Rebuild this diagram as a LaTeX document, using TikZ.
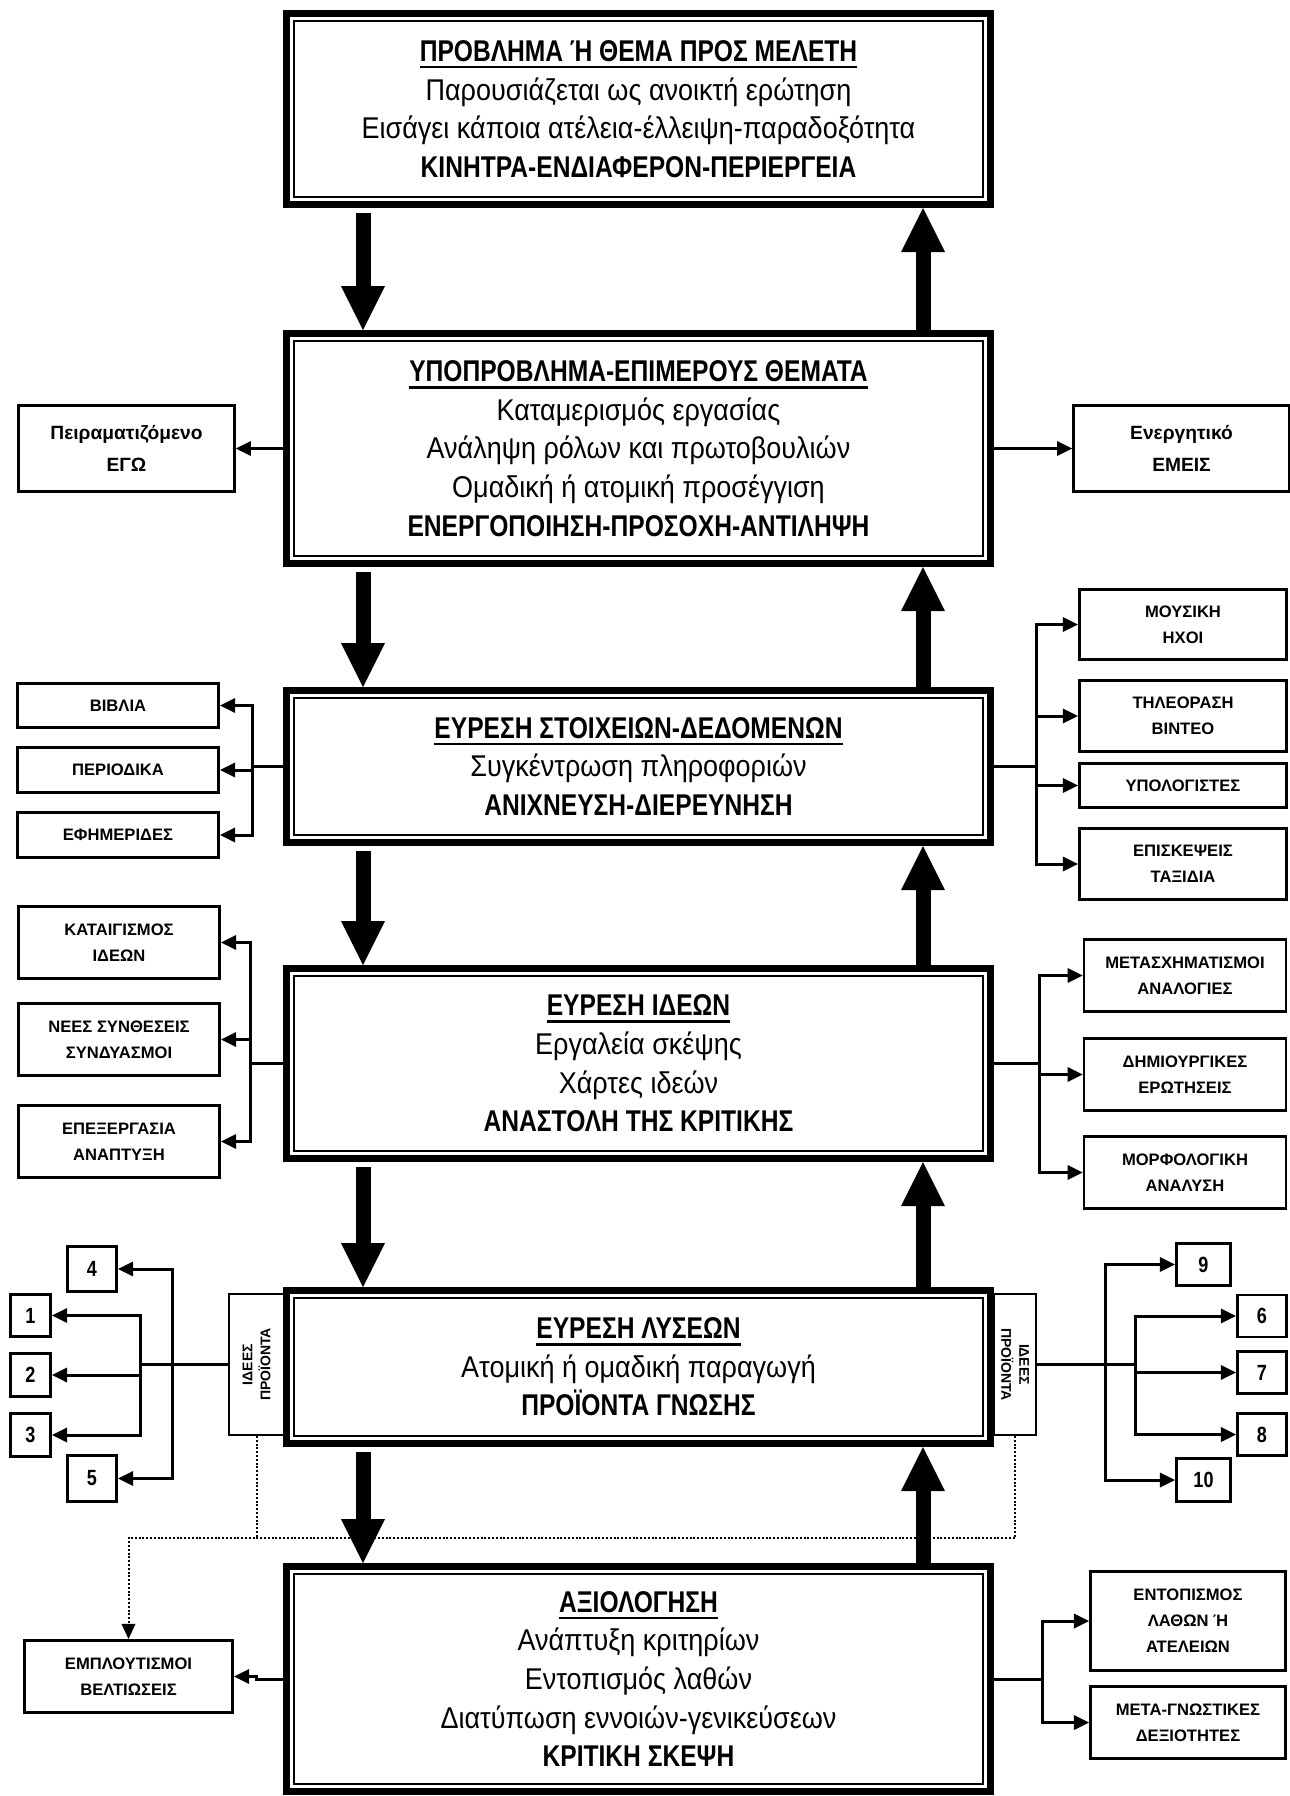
\documentclass[tikz,border=0pt]{standalone}
\usepackage{fontspec}
\setmainfont{Liberation Sans}
\newfontfamily\narrowsf{Liberation Sans}[UprightFeatures={FakeStretch=0.9},BoldFeatures={FakeStretch=0.82}]
\usetikzlibrary{arrows.meta}

\newsavebox{\titlebox}
\newcommand{\boxtitle}[1]{\sbox{\titlebox}{\bfseries #1}\rlap{\rule[-3.5pt]{\wd\titlebox}{1.3pt}}\usebox{\titlebox}}

\begin{document}
\begin{tikzpicture}[x=0.5pt,y=-0.5pt]
        \tikzstyle{stage}=[rectangle,draw,line width=3.5pt,fill=white,inner sep=2pt,align=center,minimum width=352pt,
            font={\narrowsf\fontsize{15pt}{19.3pt}\selectfont},
            path picture={\draw [line width=0.9pt] ([shift={(3.8pt,3.8pt)}]path picture bounding box.south west) rectangle ([shift={(-3.8pt,-3.8pt)}]path picture bounding box.north east);}]
        \tikzstyle{item}=[rectangle,draw,line width=1.3pt,fill=white,align=center,inner sep=1pt,
            font={\fontsize{8.3pt}{13pt}\selectfont\bfseries}]
        \tikzstyle{num}=[rectangle,draw,line width=1.3pt,fill=white,inner sep=0pt,
            font={\narrowsf\bfseries\fontsize{11pt}{12pt}\selectfont}]
        \tikzstyle{tab}=[rectangle,draw,line width=1.2pt,fill=white,minimum height=70.25pt]
        \tikzstyle{flow}=[line width=7.5pt,-{Triangle[length=22pt,width=22pt,line width=0pt]}]
        \tikzstyle{link}=[line width=1.5pt]
        \tikzstyle{branch}=[line width=1.5pt,-{Triangle[length=7.5pt,width=7.5pt,line width=0pt]}]
        \tikzstyle{feedback}=[line width=1pt,dash pattern=on 1pt off 0.9pt]
        \useasboundingbox (0,0) rectangle (1290,1796);
        \coordinate (L) at (363,0);
        \coordinate (R) at (923,0);
        % side tabs of the solutions box, under the box itself
        \node [tab,minimum width=27.25pt] (ltab) at (256.5,1364.5) {};
        \node [tab,minimum width=20.75pt] (rtab) at (1015,1364.5) {};
        \node [rotate=90,align=center,font={\fontsize{7pt}{9pt}\selectfont\bfseries}] at (ltab) {ΙΔΕΕΣ\\ΠΡΟΪΟΝΤΑ};
        \node [rotate=-90,align=center,font={\fontsize{7pt}{9pt}\selectfont\bfseries}] at (rtab) {ΙΔΕΕΣ\\ΠΡΟΪΟΝΤΑ};
        % main column
        \node [stage,minimum height=95.5pt] (problem) at (638.5,109) {\boxtitle{ΠΡΟΒΛΗΜΑ Ή ΘΕΜΑ ΠΡΟΣ ΜΕΛΕΤΗ}\\Παρουσιάζεται ως ανοικτή ερώτηση\\Εισάγει κάποια ατέλεια-έλλειψη-παραδοξότητα\\\textbf{ΚΙΝΗΤΡΑ-ΕΝΔΙΑΦΕΡΟΝ-ΠΕΡΙΕΡΓΕΙΑ}};
        \node [stage,minimum height=115pt] (subproblem) at (638.5,448.5) {\boxtitle{ΥΠΟΠΡΟΒΛΗΜΑ-ΕΠΙΜΕΡΟΥΣ ΘΕΜΑΤΑ}\\Καταμερισμός εργασίας\\Ανάληψη ρόλων και πρωτοβουλιών\\Ομαδική ή ατομική προσέγγιση\\\textbf{ΕΝΕΡΓΟΠΟΙΗΣΗ-ΠΡΟΣΟΧΗ-ΑΝΤΙΛΗΨΗ}};
        \node [stage,minimum height=76pt] (data) at (638.5,766.5) {\boxtitle{ΕΥΡΕΣΗ ΣΤΟΙΧΕΙΩΝ-ΔΕΔΟΜΕΝΩΝ}\\Συγκέντρωση πληροφοριών\\\textbf{ΑΝΙΧΝΕΥΣΗ-ΔΙΕΡΕΥΝΗΣΗ}};
        \node [stage,minimum height=95pt] (ideas) at (638.5,1063.5) {\boxtitle{ΕΥΡΕΣΗ ΙΔΕΩΝ}\\Εργαλεία σκέψης\\Χάρτες ιδεών\\\textbf{ΑΝΑΣΤΟΛΗ ΤΗΣ ΚΡΙΤΙΚΗΣ}};
        \node [stage,minimum height=76.5pt] (solutions) at (638.5,1367) {\boxtitle{ΕΥΡΕΣΗ ΛΥΣΕΩΝ}\\Ατομική ή ομαδική παραγωγή\\\textbf{ΠΡΟΪΟΝΤΑ ΓΝΩΣΗΣ}};
        \node [stage,minimum height=112.5pt] (assess) at (638.5,1679) {\boxtitle{ΑΞΙΟΛΟΓΗΣΗ}\\Ανάπτυξη κριτηρίων\\Εντοπισμός λαθών\\Διατύπωση εννοιών-γενικεύσεων\\\textbf{ΚΡΙΤΙΚΗ ΣΚΕΨΗ}};
        \draw [flow,shorten <=2.5pt] (problem.south -| L) -- (subproblem.north -| L);
        \draw [flow] (subproblem.north -| R) -- (problem.south -| R);
        \draw [flow,shorten <=2.5pt] (subproblem.south -| L) -- (data.north -| L);
        \draw [flow] (data.north -| R) -- (subproblem.south -| R);
        \draw [flow,shorten <=2.5pt] (data.south -| L) -- (ideas.north -| L);
        \draw [flow] (ideas.north -| R) -- (data.south -| R);
        \draw [flow,shorten <=2.5pt] (ideas.south -| L) -- (solutions.north -| L);
        \draw [flow] (solutions.north -| R) -- (ideas.south -| R);
        % feedback from the products to the improvements
        \node [item,minimum width=104.25pt,minimum height=36.25pt] (enrich) at (128.5,1676.5) {ΕΜΠΛΟΥΤΙΣΜΟΙ\\ΒΕΛΤΙΩΣΕΙΣ};
        \draw [feedback] (ltab.south) -- ++(0,102.25) coordinate (fb);
        \draw [feedback,-{Triangle[length=7.5pt,width=7pt,line width=0pt]}] (rtab.south) |- (enrich.north |- fb) -- (enrich.north);
        \draw [flow,shorten <=2.5pt] (solutions.south -| L) -- (assess.north -| L);
        \draw [flow] (assess.north -| R) -- (solutions.south -| R);
        \draw [branch] (assess.west) -- ++(-26.5,0) |- (enrich.east);
        % ego and we
        \node [item,minimum width=108pt,minimum height=43.25pt,font={\fontsize{9.6pt}{16pt}\selectfont\bfseries}] (ego) at (126.5,448.5) {Πειραματιζόμενο\\ΕΓΩ};
        \node [item,minimum width=108pt,minimum height=43.25pt,font={\fontsize{9.6pt}{16pt}\selectfont\bfseries}] (we) at (1181.5,448.5) {Ενεργητικό\\ΕΜΕΙΣ};
        \draw [branch] (subproblem.west) -- (ego.east);
        \draw [branch] (subproblem.east) -- (we.west);
        % sources of data
        \node [item,minimum width=100.75pt,minimum height=22.25pt] (books) at (118,705.5) {ΒΙΒΛΙΑ};
        \node [item,minimum width=100.75pt,minimum height=22.25pt] (mags) at (118,770) {ΠΕΡΙΟΔΙΚΑ};
        \node [item,minimum width=100.75pt,minimum height=22.25pt] (papers) at (118,835) {ΕΦΗΜΕΡΙΔΕΣ};
        \node [item,minimum width=103.75pt,minimum height=35.25pt] (music) at (1183,624.5) {ΜΟΥΣΙΚΗ\\ΗΧΟΙ};
        \node [item,minimum width=103.75pt,minimum height=35.75pt] (tv) at (1183,716) {ΤΗΛΕΟΡΑΣΗ\\ΒΙΝΤΕΟ};
        \node [item,minimum width=103.75pt,minimum height=22.25pt] (pcs) at (1183,785.5) {ΥΠΟΛΟΓΙΣΤΕΣ};
        \node [item,minimum width=103.75pt,minimum height=35.75pt] (trips) at (1183,864) {ΕΠΙΣΚΕΨΕΙΣ\\ΤΑΞΙΔΙΑ};
        \draw [link] (data.west) -- ++(-30.5,0) coordinate (dl);
        \draw [branch] (dl) |- (books.east);
        \draw [branch] (dl) |- (mags.east);
        \draw [branch] (dl) |- (papers.east);
        \draw [link] (data.east) -- ++(42.5,0) coordinate (dr);
        \draw [branch] (dr) |- (music.west);
        \draw [branch] (dr) |- (tv.west);
        \draw [branch] (dr) |- (pcs.west);
        \draw [branch] (dr) |- (trips.west);
        % idea techniques
        \node [item,minimum width=100.75pt,minimum height=36.25pt] (storm) at (119,942.5) {ΚΑΤΑΙΓΙΣΜΟΣ\\ΙΔΕΩΝ};
        \node [item,minimum width=100.75pt,minimum height=36.25pt] (combos) at (119,1039.5) {ΝΕΕΣ ΣΥΝΘΕΣΕΙΣ\\ΣΥΝΔΥΑΣΜΟΙ};
        \node [item,minimum width=100.75pt,minimum height=36.25pt] (develop) at (119,1141.5) {ΕΠΕΞΕΡΓΑΣΙΑ\\ΑΝΑΠΤΥΞΗ};
        \node [item,minimum width=101pt,minimum height=36.25pt] (analog) at (1185,975.5) {ΜΕΤΑΣΧΗΜΑΤΙΣΜΟΙ\\ΑΝΑΛΟΓΙΕΣ};
        \node [item,minimum width=101pt,minimum height=36.25pt] (quest) at (1185,1074.5) {ΔΗΜΙΟΥΡΓΙΚΕΣ\\ΕΡΩΤΗΣΕΙΣ};
        \node [item,minimum width=101pt,minimum height=36.25pt] (morph) at (1185,1172.5) {ΜΟΡΦΟΛΟΓΙΚΗ\\ΑΝΑΛΥΣΗ};
        \draw [link] (ideas.west) -- ++(-32.5,0) coordinate (il);
        \draw [branch] (il) |- (storm.east);
        \draw [branch] (il) |- (combos.east);
        \draw [branch] (il) |- (develop.east);
        \draw [link] (ideas.east) -- ++(45.5,0) coordinate (ir);
        \draw [branch] (ir) |- (analog.west);
        \draw [branch] (ir) |- (quest.west);
        \draw [branch] (ir) |- (morph.west);
        % numbered products
        \node [num,minimum width=24.75pt,minimum height=22.75pt] (n4) at (92,1269) {4};
        \node [num,minimum width=20.25pt,minimum height=21.25pt] (n1) at (30.5,1315.5) {1};
        \node [num,minimum width=20.25pt,minimum height=21.25pt] (n2) at (30.5,1375) {2};
        \node [num,minimum width=20.25pt,minimum height=21.25pt] (n3) at (30.5,1435) {3};
        \node [num,minimum width=24.75pt,minimum height=22.75pt] (n5) at (92,1478.5) {5};
        \node [num,minimum width=27.25pt,minimum height=21.25pt] (n9) at (1203.5,1264.5) {9};
        \node [num,minimum width=24.75pt,minimum height=21pt] (n6) at (1262,1316) {6};
        \node [num,minimum width=24.75pt,minimum height=21pt] (n7) at (1262,1372.5) {7};
        \node [num,minimum width=24.75pt,minimum height=21pt] (n8) at (1262,1434.5) {8};
        \node [num,minimum width=27.25pt,minimum height=21.25pt] (n10) at (1203.5,1480) {10};
        \draw [link,line width=1.8pt] (ltab.west) -- ++(-88,0) coordinate (inl);
        \path (ltab.west) ++(-56,0) coordinate (outl);
        \draw [branch] (inl) |- (n1.east);
        \draw [branch] (inl) |- (n2.east);
        \draw [branch] (inl) |- (n3.east);
        \draw [branch] (outl) |- (n4.east);
        \draw [branch] (outl) |- (n5.east);
        \draw [link,line width=1.8pt] (rtab.east) -- ++(99,0) coordinate (inr);
        \path (rtab.east) ++(69,0) coordinate (outr);
        \draw [branch] (inr) |- (n6.west);
        \draw [branch] (inr) |- (n7.west);
        \draw [branch] (inr) |- (n8.west);
        \draw [branch] (outr) |- (n9.west);
        \draw [branch] (outr) |- (n10.west);
        % outcomes of the assessment
        \node [item,minimum width=97.75pt,minimum height=49.75pt] (errors) at (1188,1621) {ΕΝΤΟΠΙΣΜΟΣ\\ΛΑΘΩΝ Ή\\ΑΤΕΛΕΙΩΝ};
        \node [item,minimum width=97.75pt,minimum height=36.25pt] (meta) at (1188,1722.5) {ΜΕΤΑ-ΓΝΩΣΤΙΚΕΣ\\ΔΕΞΙΟΤΗΤΕΣ};
        \draw [link] (assess.east) -- ++(48.5,0) coordinate (ar);
        \draw [branch] (ar) |- (errors.west);
        \draw [branch] (ar) |- (meta.west);
    \end{tikzpicture}
\end{document}
